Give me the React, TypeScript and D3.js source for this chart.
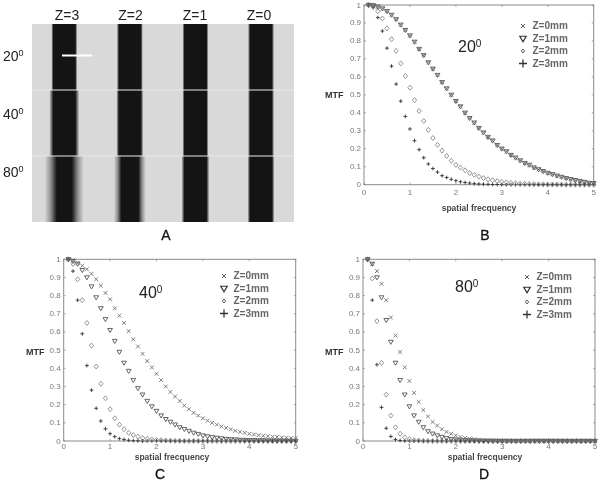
import React from "react";
import * as d3 from "d3";

const freq = d3.range(1, 51).map((d) => d / 10);
const yTicks = [0, 0.1, 0.2, 0.3, 0.4, 0.5, 0.6, 0.7, 0.8, 0.9, 1];
const xTicks = [0, 1, 2, 3, 4, 5];
const legendLabels = ["Z=0mm", "Z=1mm", "Z=2mm", "Z=3mm"];
const kinds = ["x", "tri", "dia", "plus"];

const bZ1 = [1,.998,.99,.98,.965,.945,.92,.89,.86,.83,.795,.755,.72,.68,.645,.61,.57,.535,.5,.465,.435,.4,.37,.345,.315,.29,.265,.245,.22,.2,.185,.165,.15,.135,.12,.11,.095,.085,.075,.065,.058,.05,.043,.036,.03,.025,.02,.015,.01,.008];
const bZ0 = bZ1;
const bZ2 = [1,.995,.965,.925,.87,.81,.745,.675,.605,.54,.47,.41,.355,.305,.26,.222,.19,.16,.133,.11,.095,.08,.065,.055,.045,.037,.03,.025,.02,.016,.013,.01,.008,.006,.005,.004,.003,.002,.002,.001,.001,.001,.001,0,0,0,0,0,0,0];
const bZ3 = [1,.985,.93,.855,.76,.66,.56,.465,.38,.31,.245,.195,.15,.115,.09,.07,.05,.04,.03,.022,.016,.012,.009,.006,.004,.003,.002,.001,.001,0,0,0,0,0,0,0,0,0,0,0,0,0,0,0,0,0,0,0,0,0];

const cZ0 = [1,.995,.98,.965,.945,.92,.89,.855,.815,.78,.73,.69,.65,.605,.56,.52,.48,.44,.405,.37,.335,.3,.27,.245,.22,.195,.175,.155,.14,.125,.112,.1,.09,.08,.072,.064,.056,.05,.045,.04,.036,.032,.029,.026,.024,.022,.02,.018,.016,.015];
const cZ1 = [1,.99,.975,.94,.9,.85,.79,.73,.67,.61,.55,.49,.43,.385,.335,.29,.255,.22,.19,.165,.14,.12,.105,.09,.075,.065,.055,.045,.038,.03,.025,.02,.017,.014,.011,.009,.008,.006,.005,.004,.004,.003,.003,.002,.002,.001,.001,.001,.001,0];
const cZ2 = [1,.975,.89,.775,.65,.525,.41,.315,.235,.175,.125,.09,.065,.045,.033,.024,.016,.012,.009,.006,.004,.003,.002,.001,.001,0,0,0,0,0,0,0,0,0,0,0,0,0,0,0,0,0,0,0,0,0,0,0,0,0];
const cZ3 = [1,.935,.775,.59,.415,.28,.18,.11,.067,.04,.024,.013,.008,.004,.002,.001,0,0,0,0,0,0,0,0,0,0,0,0,0,0,0,0,0,0,0,0,0,0,0,0,0,0,0,0,0,0,0,0,0,0];

const dZ0 = [1,.975,.935,.865,.775,.68,.58,.49,.405,.33,.265,.215,.17,.135,.105,.085,.065,.05,.04,.03,.022,.017,.013,.01,.007,.005,.004,.003,.002,.001,.001,0,0,0,0,0,0,0,0,0,0,0,0,0,0,0,0,0,0,0];
const dZ1 = [1,.975,.9,.79,.665,.545,.43,.335,.255,.19,.14,.105,.075,.053,.04,.03,.022,.015,.01,.008,.006,.004,.003,.002,.001,0,0,0,0,0,0,0,0,0,0,0,0,0,0,0,0,0,0,0,0,0,0,0,0,0];
const dZ2 = [1,.895,.66,.43,.255,.14,.075,.04,.02,.01,.005,.003,.001,0,0,0,0,0,0,0,0,0,0,0,0,0,0,0,0,0,0,0,0,0,0,0,0,0,0,0,0,0,0,0,0,0,0,0,0,0];
const dZ3 = [.995,.775,.42,.185,.07,.025,.008,.003,.001,0,0,0,0,0,0,0,0,0,0,0,0,0,0,0,0,0,0,0,0,0,0,0,0,0,0,0,0,0,0,0,0,0,0,0,0,0,0,0,0,0];

const stripLabels = ["Z=3", "Z=2", "Z=1", "Z=0"];
const angleLabels = ["20", "40", "80"];
// half-width of the dark core and of the whole strip, per row (columns Z=3..Z=0)
const stripCore = [
  [11, 11, 11, 11],
  [11, 11, 11, 11],
  [7.5, 8.5, 11, 11],
];
const stripExtent = [
  [13, 13, 13, 13],
  [15, 13.5, 13, 13],
  [19.5, 16, 14, 13.5],
];

const seriesColor: Record<string, string> = { x: "#6e6e6e", tri: "#555", dia: "#8a8a8a", plus: "#333" };

function Marker({ kind, x, y, s = 2, sw = 0.9, color }: any) {
  const c = color ?? seriesColor[kind];
  if (kind === "x")
    return <path d={`M${x - s},${y - s}L${x + s},${y + s}M${x - s},${y + s}L${x + s},${y - s}`} stroke={c} strokeWidth={sw} fill="none" />;
  if (kind === "plus")
    return <path d={`M${x - s},${y}L${x + s},${y}M${x},${y - s}L${x},${y + s}`} stroke={c} strokeWidth={sw} fill="none" />;
  if (kind === "tri")
    return <path d={`M${x - s},${y - s * 0.7}L${x + s},${y - s * 0.7}L${x},${y + s}Z`} stroke={c} strokeWidth={sw} fill="none" />;
  return <path d={`M${x},${y - s}L${x + s * 0.85},${y}L${x},${y + s}L${x - s * 0.85},${y}Z`} stroke={c} strokeWidth={sw} fill="none" />;
}

function MtfPanel({ box, series, angle, anglePos, legendX, legendY, mtfX, mtfY, tickGap, xLabelX, xLabelY, letter, letterPos }: any) {
  const [l, r, t, b] = box;
  const x = d3.scaleLinear().domain([0, 5]).range([l, r]);
  const y = d3.scaleLinear().domain([0, 1]).range([b, t]);
  const font = "Liberation Sans, Arial, sans-serif";
  return (
    <g fontFamily={font}>
      <rect x={l} y={t} width={r - l} height={b - t} fill="#fff" stroke="#8a8a8a" strokeWidth={1} />
      {xTicks.map((v) => (
        <g key={v}>
          <path d={`M${x(v)},${b}V${b - 2}M${x(v)},${t}V${t + 2}`} stroke="#888" strokeWidth={0.7} />
          <text x={x(v)} y={b + tickGap} fontSize={8} textAnchor="middle" fill="#777">{v}</text>
        </g>
      ))}
      {yTicks.map((v) => (
        <g key={v}>
          <path d={`M${l},${y(v)}H${l + 2}M${r},${y(v)}H${r - 2}`} stroke="#888" strokeWidth={0.7} />
          <text x={l - 3} y={y(v) + 2.5} fontSize={8} textAnchor="end" fill="#777">{v}</text>
        </g>
      ))}
      {[...series].reverse().map((vals: number[], ri: number) => {
        const i = series.length - 1 - ri;
        return vals.map((v, j) => <Marker key={`${i}-${j}`} kind={kinds[i]} x={x(freq[j])} y={y(v)} s={i === 1 ? 2.4 : i === 2 ? 2.5 : 1.9} />);
      })}
      {legendLabels.map((lab, i) => {
        const ly = legendY + i * 12.5;
        return (
          <g key={lab}>
            <Marker kind={kinds[i]} x={legendX} y={ly} s={i === 3 ? 4 : i === 1 ? 3.2 : 2} sw={i === 3 ? 1.3 : i === 1 ? 1.2 : 0.8} color="#333" />
            <text x={legendX + 9.5} y={ly + 3} fontSize={10} fontWeight={700} fill="#666">{lab}</text>
          </g>
        );
      })}
      <text x={anglePos[0]} y={anglePos[1]} fontSize={16} fill="#222">
        {angle}
        <tspan fontSize={10} dy={-5}>0</tspan>
      </text>
      <text x={mtfX} y={mtfY} fontSize={9} fontWeight={700} fill="#333" textAnchor="end">MTF</text>
      <text x={xLabelX} y={xLabelY} fontSize={8.5} fontWeight={700} fill="#444" textAnchor="middle">spatial frecquency</text>
      <text x={letterPos[0]} y={letterPos[1]} fontSize={14} stroke="#111" strokeWidth={0.3} fill="#111" textAnchor="middle">{letter}</text>
    </g>
  );
}

function PanelA() {
  const col = d3.scalePoint<string>().domain(stripLabels).range([64.3, 261]);
  const row = d3.scaleBand<string>().domain(angleLabels).range([24, 222]);
  const font = "Liberation Sans, Arial, sans-serif";
  return (
    <g fontFamily={font}>
      <defs>
        {stripExtent.flatMap((rowVals, ri) =>
          rowVals.map((e, ci) => {
            const a = (e - stripCore[ri][ci]) / (2 * e);
            const soft = e - stripCore[ri][ci] > 6;
            return (
              <linearGradient id={`g${ri}${ci}`} key={`${ri}${ci}`}>
                <stop offset={0} stopColor="#d9d9d9" />
                {soft && <stop offset={a * 0.5} stopColor="#8f8f8f" />}
                <stop offset={a} stopColor="#141414" />
                <stop offset={1 - a} stopColor="#141414" />
                {soft && <stop offset={1 - a * 0.5} stopColor="#8f8f8f" />}
                <stop offset={1} stopColor="#d9d9d9" />
              </linearGradient>
            );
          })
        )}
      </defs>
      <rect x={32} y={24} width={262} height={198} fill="#d9d9d9" />
      {angleLabels.map((a, ri) =>
        stripLabels.map((z, ci) => {
          const e = stripExtent[ri][ci];
          return <rect key={a + z} x={col(z)! - e} y={row(a)!} width={2 * e} height={row.bandwidth()} fill={`url(#g${ri}${ci})`} />;
        })
      )}
      {angleLabels.slice(1).map((a) => (
        <rect key={a} x={32} y={row(a)! - 0.5} width={262} height={1} fill="#e8e8e8" />
      ))}
      <rect x={62} y={54.5} width={30} height={2} fill="#fff" />
      {stripLabels.map((z, i) => (
        <text key={z} x={[67, 130.5, 195, 259][i]} y={20} fontSize={14} textAnchor="middle" fill="#222">{z}</text>
      ))}
      {angleLabels.map((a, i) => (
        <text key={a} x={3} y={[61, 119, 177][i]} fontSize={14} fill="#222">
          {a}
          <tspan fontSize={9} dy={-5}>0</tspan>
        </text>
      ))}
      <text x={166} y={240} fontSize={14} stroke="#111" strokeWidth={0.3} fill="#111" textAnchor="middle">A</text>
    </g>
  );
}

export default function App() {
  return (
    <svg width={600} height={482} style={{ position: "absolute", left: 0, top: 0, background: "#fff", filter: "blur(0.6px)" }}>
      <PanelA />
      <MtfPanel box={[364, 593.7, 5, 184.7]} series={[bZ0, bZ1, bZ2, bZ3]} angle="20" anglePos={[458, 52]} legendX={523} legendY={26} mtfX={343.5} mtfY={98} tickGap={10} xLabelX={479} xLabelY={211} letter="B" letterPos={[485, 240]} />
      <MtfPanel box={[63.7, 295.7, 259.3, 441]} series={[cZ0, cZ1, cZ2, cZ3]} angle="40" anglePos={[139, 298]} legendX={224} legendY={276} mtfX={44.5} mtfY={355} tickGap={8} xLabelX={172} xLabelY={460} letter="C" letterPos={[160, 479]} />
      <MtfPanel box={[363, 595, 259.3, 441]} series={[dZ0, dZ1, dZ2, dZ3]} angle="80" anglePos={[455, 292]} legendX={527} legendY={277} mtfX={343.5} mtfY={355} tickGap={8} xLabelX={485} xLabelY={460} letter="D" letterPos={[484, 479]} />
    </svg>
  );
}
